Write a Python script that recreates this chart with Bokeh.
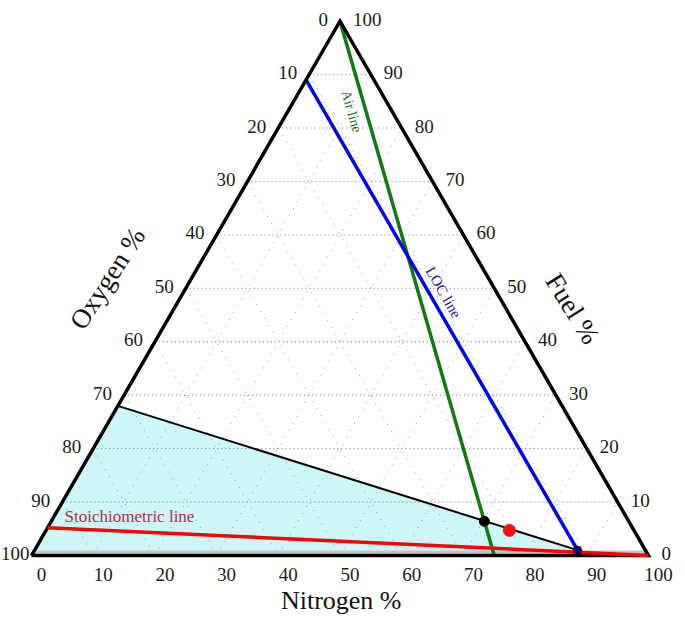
import math
from bokeh.plotting import figure
from bokeh.models import Range1d
from bokeh.core.properties import value
from bokeh.embed import file_html
from bokeh.resources import INLINE

# ---------------- data (ternary: N = nitrogen %, F = fuel %, O = 100 - N - F) -------------
ticks = [0, 10, 20, 30, 40, 50, 60, 70, 80, 90, 100]
tick_labels = ["0", "10", "20", "30", "40", "50", "60", "70", "80", "90", "100"]
grid_levels = [10, 20, 30, 40, 50, 60, 70, 80, 90]

air_N = [0, 75]
air_F = [100, 0]

loc_N = [0, 88]
loc_F = [89, 1]

stoich_N = [0, 100]
stoich_F = [5.2, 0]

ufl_N = [0, 88]
ufl_F = [28, 1]

region_N = [0, 0, 88, 89]
region_F = [0, 28, 1, 0]

band_N = [0.4, 99.6]
band_F = [0.65, 0.65]

pt_black_N, pt_black_F = [70.2], [6.4]
pt_red_N, pt_red_F = [75.1], [4.7]
pt_blue_N, pt_blue_F = [88.0], [1.0]

S3 = math.sqrt(3) / 2


def cx(N, F):
    return [n + f / 2 for n, f in zip(N, F)]


def cy(F):
    return [f * S3 for f in F]


FONT = value("Liberation Serif")

W, H = 680, 618
SC = 6.17
X0 = -31 / SC
Y0 = -(H - 555) / SC

p = figure(width=W, height=H, output_backend="svg", toolbar_location=None,
           x_axis_type=None, y_axis_type=None, min_border=0,
           x_range=Range1d(X0, X0 + W / SC), y_range=Range1d(Y0, Y0 + H / SC))
p.outline_line_color = None
p.background_fill_color = "white"

# flammable region
p.patch(cx(region_N, region_F), cy(region_F), fill_color="#ccf6f8", line_color=None)

# grid
for c in grid_levels:
    # constant fuel (horizontal)
    N = [0, 100 - c]
    F = [c, c]
    p.line(cx(N, F), cy(F), line_color="#707070", line_dash="1 3", line_width=1)
    # constant nitrogen
    N = [c, c]
    F = [0, 100 - c]
    p.line(cx(N, F), cy(F), line_color="#909090", line_dash="1 7", line_width=1)
    # constant oxygen
    N = [0, 100 - c]
    F = [100 - c, 0]
    p.line(cx(N, F), cy(F), line_color="#909090", line_dash="1 7", line_width=1)

# gray band along base
p.line(cx(band_N, band_F), cy(band_F), line_color="#c4c4c4", line_width=3)

# upper boundary of region
p.line(cx(ufl_N, ufl_F), cy(ufl_F), line_color="black", line_width=2)

# air line
p.line(cx(air_N, air_F), cy(air_F), line_color="#0f7a0f", line_width=3.5)
# LOC line
p.line(cx(loc_N, loc_F), cy(loc_F), line_color="#0000ee", line_width=3.5)

# triangle outline
tri_N = [0, 100, 0, 0]
tri_F = [0, 0, 100, 0]
p.line(cx(tri_N, tri_F), cy(tri_F), line_color="black", line_width=3.5, line_join="miter")

# stoichiometric line
p.line(cx(stoich_N, stoich_F), cy(stoich_F), line_color="#ff0000", line_width=3.5)

# points
p.scatter(cx(pt_black_N, pt_black_F), cy(pt_black_F), size=10, fill_color="black",
          line_color="black")
p.scatter(cx(pt_red_N, pt_red_F), cy(pt_red_F), size=12, fill_color="#ff1010",
          line_color="#ff1010")
p.scatter(cx(pt_blue_N, pt_blue_F), cy(pt_blue_F), size=8, fill_color="#000080",
          line_color="black")

TS = "19px"
TC = "#1a1a1a"
# tick labels
# bottom: nitrogen
bN = [float(t) for t in ticks]
bF = [0.0] * len(ticks)
p.text(cx(bN, bF), cy(bF), text=tick_labels, x_offset=10, y_offset=19,
       text_align="center", text_baseline="middle", text_font=FONT,
       text_font_size=TS, text_color=TC)
# left: oxygen (N=0, F=100-O)
lN = [0.0] * (len(ticks) - 1)
lF = [100.0 - t for t in ticks[:-1]]
p.text(cx(lN, lF), cy(lF), text=tick_labels[:-1], x_offset=-12, y_offset=-2,
       text_align="right", text_baseline="middle", text_font=FONT,
       text_font_size=TS, text_color=TC)
p.text(cx([0.0], [0.0]), cy([0.0]), text=tick_labels[-1:], x_offset=-2, y_offset=-2,
       text_align="right", text_baseline="middle", text_font=FONT,
       text_font_size=TS, text_color=TC)
# right: fuel (N=100-F, F)
rF = [float(t) for t in ticks]
rN = [100.0 - t for t in ticks]
p.text(cx(rN, rF), cy(rF), text=tick_labels, x_offset=13, y_offset=-2,
       text_align="left", text_baseline="middle", text_font=FONT,
       text_font_size=TS, text_color=TC)

# axis titles
p.text([50.2], [-7.29], text=["Nitrogen %"], text_align="center", text_baseline="middle",
       text_font=FONT, text_font_size="26px", text_color="#111111")
p.text([12.3], [44.9], text=["Oxygen %"], angle=math.radians(57), text_align="center",
       text_baseline="middle", text_font=FONT, text_font_size="27px", text_color="#111111")
p.text([87.7], [40.0], text=["Fuel %"], angle=math.radians(-58), text_align="center",
       text_baseline="middle", text_font=FONT, text_font_size="27px", text_color="#111111")

# line labels
p.text([51.86], [71.96], text=["Air line"], angle=math.radians(-73.9), text_align="center",
       text_baseline="middle", text_font=FONT, text_font_size="14px", text_color="#1a6e1a")
p.text([66.77], [42.63], text=["LOC line"], angle=math.radians(-60), text_align="center",
       text_baseline="middle", text_font=FONT, text_font_size="15px", text_color="#1a1aa0")
p.text([15.88], [6.32], text=["Stoichiometric line"], text_align="center",
       text_baseline="middle", text_font=FONT, text_font_size="17px", text_color="#c0284c")

open("out.html", "w").write(file_html(p, INLINE))
